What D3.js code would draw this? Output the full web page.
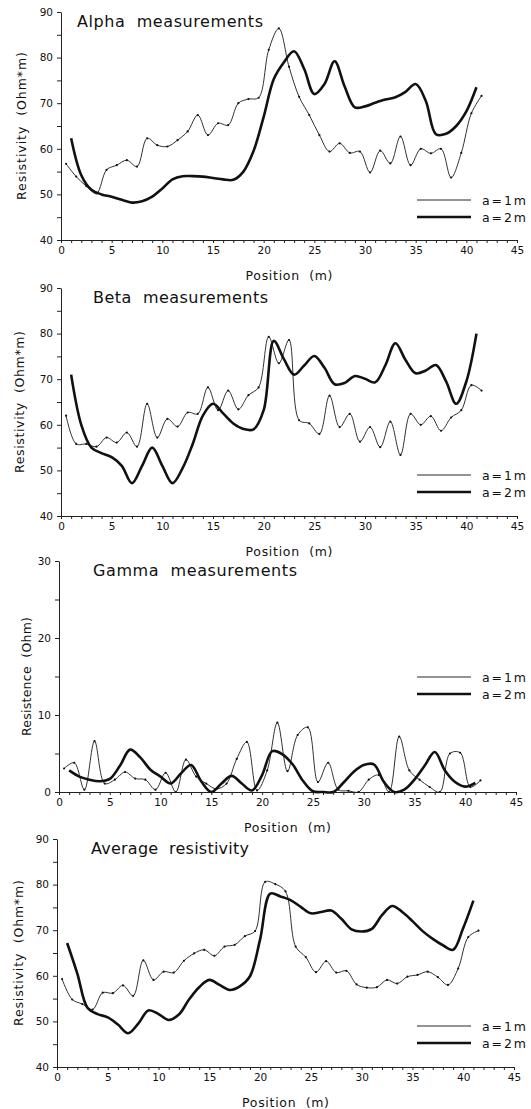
<!DOCTYPE html>
<meta charset="utf-8">
<style>
 body { margin: 0; background: #fff; }
 svg { font-family: "DejaVu Sans", sans-serif; background: #fff; }
 .axis text { font-size: 10.5px; fill: #111; font-family: "DejaVu Sans", sans-serif; }
 .axis path, .axis line { stroke: #222; stroke-width: 1px; }
 .thin { fill: none; stroke: #1a1a1a; stroke-width: 0.9px; }
 .thick { fill: none; stroke: #111; stroke-width: 2.6px; stroke-linejoin: round; }
 .dot { fill: #111; }
 .title { font-size: 16px; fill: #111; white-space: pre; }
 .ylab, .xlab { font-size: 12.5px; fill: #111; }
 .leg { font-size: 12.5px; fill: #111; }
</style>
<body>
<svg width="531" height="1109"></svg>
</body>
<script src="https://d3js.org/d3.v7.min.js"></script>
<script>

// measurement positions (m)
var posThin = [0.5, 1.5, 2.5, 3.5, 4.5, 5.5, 6.5, 7.5, 8.5, 9.5, 10.5, 11.5, 12.5, 13.5,
               14.5, 15.5, 16.5, 17.5, 18.5, 19.5, 20.5, 21.5, 22.5, 23.5, 24.5, 25.5, 26.5, 27.5,
               28.5, 29.5, 30.5, 31.5, 32.5, 33.5, 34.5, 35.5, 36.5, 37.5, 38.5, 39.5, 40.5, 41.5];
var posThick = [1, 2, 3, 4, 5, 6, 7, 8, 9, 10, 11, 12, 13, 14, 15, 16, 17, 18, 19, 20, 21,
                22, 23, 24, 25, 26, 27, 28, 29, 30, 31, 32, 33, 34, 35, 36, 37, 38, 39, 40, 41];

// a=1m series
var alpha1 = [56.7, 53.9, 51.8, 50.2, 55.4, 56.4, 57.5, 56.1, 62.3, 60.8, 60.5, 61.9, 63.8, 67.4,
              63.0, 65.6, 65.2, 70.0, 70.9, 71.2, 81.7, 86.4, 78.0, 71.4, 67.4, 63.0, 59.4, 61.2,
              59.1, 59.4, 54.8, 59.6, 56.8, 62.7, 56.4, 60.0, 59.0, 60.0, 53.7, 59.1, 67.8, 71.6];
var beta1 = [62.0, 55.8, 55.8, 55.2, 57.2, 56.1, 58.3, 55.2, 64.6, 57.2, 61.3, 59.6, 62.7, 62.4,
             68.2, 63.2, 67.5, 63.4, 66.5, 68.2, 79.3, 73.5, 78.6, 61.0, 60.3, 58.0, 66.4, 59.5,
             62.4, 56.3, 59.5, 55.1, 60.7, 53.4, 62.4, 60.0, 61.9, 58.7, 61.6, 63.2, 68.7, 67.5];
var gamma1 = [3.05, 3.8, 0.3, 6.6, 1.1, 1.6, 2.6, 1.75, 1.6, 0.3, 2.5, 0.0, 4.2, 2.0,
              1.1, 0.4, 1.1, 4.3, 6.5, 0.2, 2.8, 9.0, 2.7, 7.4, 8.4, 1.3, 3.8, 0.3,
              0.15, 0.0, 1.6, 2.2, 0.0, 7.2, 2.8, 1.6, 0.65, 0.0, 5.0, 5.1, 0.65, 1.5];
var avg1 = [59.3, 54.8, 53.8, 52.6, 56.3, 56.2, 57.9, 55.6, 63.4, 59.1, 60.9, 60.7, 63.3, 64.9,
            65.7, 64.4, 66.4, 66.8, 68.7, 69.8, 80.6, 80.1, 78.5, 66.4, 64.1, 60.8, 63.2, 60.7,
            61.1, 58.1, 57.4, 57.5, 59.1, 58.3, 59.8, 60.2, 60.9, 59.7, 58.0, 61.6, 68.5, 69.9];

// a=2m series
var alpha2 = [62.3, 54.2, 51.0, 50.0, 49.5, 48.8, 48.2, 48.5, 49.5, 51.3, 53.3, 54.0, 54.0, 53.9,
              53.6, 53.3, 53.2, 55.0, 59.5, 67.0, 75.3, 79.0, 81.4, 77.5, 72.0, 74.2, 79.2, 73.6,
              69.1, 69.3, 70.1, 70.8, 71.3, 72.5, 74.2, 70.5, 63.2, 63.3, 65.0, 68.2, 73.5];
var beta2 = [71.0, 60.0, 55.0, 53.8, 52.9, 51.0, 47.2, 51.0, 55.0, 51.0, 47.2, 50.5, 55.8, 62.0,
             64.6, 62.5, 60.3, 59.1, 59.0, 63.2, 78.4, 74.4, 71.0, 73.0, 75.1, 72.5, 68.9, 69.2,
             70.7, 70.1, 69.3, 73.0, 77.9, 74.2, 71.3, 71.9, 73.1, 69.5, 64.6, 69.5, 80.0];
var gamma2 = [2.8, 2.0, 1.6, 1.4, 1.7, 3.4, 5.5, 4.5, 2.9, 2.0, 1.1, 2.4, 3.5, 1.4,
              0.0, 1.1, 2.1, 1.1, 0.2, 2.2, 5.3, 4.9, 3.6, 1.5, 0.1, 0.0, 0.0, 1.2,
              2.6, 3.5, 3.6, 1.3, 0.0, 0.3, 1.6, 3.4, 5.2, 2.8, 1.3, 0.7, 1.2];
var avg2 = [67.2, 60.5, 53.0, 51.6, 50.9, 49.3, 47.4, 49.5, 52.4, 51.6, 50.3, 51.5, 54.8, 57.5,
            59.1, 58.0, 56.9, 57.7, 59.9, 68.0, 78.0, 77.4, 76.6, 75.1, 73.7, 74.0, 74.3, 72.5,
            70.2, 69.7, 70.3, 73.3, 75.3, 74.0, 72.0, 69.8, 68.1, 66.7, 65.7, 70.5, 76.5];

var titles = ["Alpha  measurements", "Beta  measurements", "Gamma  measurements", "Average  resistivity"];
var yLabels = ["Resistivity  (Ohm*m)", "Resistivity  (Ohm*m)", "Resistence  (Ohm)", "Resistivity  (Ohm*m)"];
var xLabel = "Position  (m)";
var legendNames = ["a=1m", "a=2m"];
var xMinor = d3.range(0, 46, 1);
var resTicks = [40, 45, 50, 55, 60, 65, 70, 75, 80, 85, 90];
var gammaTicks = [0, 5, 10, 15, 20, 25, 30];

// layout of the four panels
var panels = [
    {title: titles[0], ylab: yLabels[0], thin: alpha1, thick: alpha2, yDom: [40, 90], yTicks: resTicks,
     top: 12, bottom: 240, left: 61, right: 517, titleX: 77, titleW: 186, ylabX: 21, ylabW: 148, legY: 200},
    {title: titles[1], ylab: yLabels[1], thin: beta1, thick: beta2, yDom: [40, 90], yTicks: resTicks,
     top: 288, bottom: 516, left: 61, right: 517, titleX: 93, titleW: 175, ylabX: 19, ylabW: 142, legY: 475},
    {title: titles[2], ylab: yLabels[2], thin: gamma1, thick: gamma2, yDom: [0, 30], yTicks: gammaTicks,
     top: 561, bottom: 792, left: 59, right: 516, titleX: 93, titleW: 204, ylabX: 26, ylabW: 119, legY: 677},
    {title: titles[3], ylab: yLabels[3], thin: avg1, thick: avg2, yDom: [40, 90], yTicks: resTicks,
     top: 839, bottom: 1067, left: 57, right: 514, titleX: 91, titleW: 158, ylabX: 18, ylabW: 146, legY: 1026}
];

var svg = d3.select("svg");

panels.forEach(function(p){
    var g = svg.append("g");

    var x = d3.scaleLinear().domain([0, 45]).range([p.left, p.right]);
    var y = d3.scaleLinear().domain(p.yDom).range([p.bottom, p.top]);

    var xAxis = d3.axisBottom(x)
        .tickValues(xMinor)
        .tickSize(3)
        .tickSizeOuter(0)
        .tickPadding(4)
        .tickFormat(function(d){ return d % 5 == 0 ? d : ""; });
    var yAxis = d3.axisLeft(y)
        .tickValues(p.yTicks)
        .tickSize(4)
        .tickSizeOuter(0)
        .tickPadding(4)
        .tickFormat(function(d){ return d % 10 == 0 ? d : ""; });

    g.append("g").attr("class", "axis")
        .attr("transform", "translate(0," + p.bottom + ")")
        .call(xAxis);
    g.append("g").attr("class", "axis")
        .attr("transform", "translate(" + p.left + ",0)")
        .call(yAxis);

    // title
    g.append("text").attr("class", "title")
        .attr("x", p.titleX).attr("y", p.top + 15)
        .attr("textLength", p.titleW).attr("lengthAdjust", "spacing")
        .text(p.title);

    // axis labels
    g.append("text").attr("class", "ylab")
        .attr("transform", "translate(" + p.ylabX + "," + (p.top + p.bottom) / 2 + ") rotate(-90)")
        .attr("text-anchor", "middle")
        .attr("dominant-baseline", "central")
        .attr("textLength", p.ylabW).attr("lengthAdjust", "spacing")
        .style("white-space", "pre")
        .text(p.ylab);
    g.append("text").attr("class", "xlab")
        .attr("x", (p.left + p.right) / 2).attr("y", p.bottom + 40)
        .attr("text-anchor", "middle")
        .attr("textLength", 87).attr("lengthAdjust", "spacing")
        .style("white-space", "pre")
        .text(xLabel);

    var thinData = posThin.map(function(d, i){ return [d, p.thin[i]]; });
    var thickData = posThick.map(function(d, i){ return [d, p.thick[i]]; });

    var line = d3.line()
        .x(function(d){ return x(d[0]); })
        .y(function(d){ return y(d[1]); })
        .curve(d3.curveCatmullRom.alpha(0.5));

    g.append("path").attr("class", "thin").attr("d", line(thinData));
    g.selectAll(".dot").data(thinData).enter().append("circle")
        .attr("class", "dot")
        .attr("cx", function(d){ return x(d[0]); })
        .attr("cy", function(d){ return y(d[1]); })
        .attr("r", 1.1);
    g.append("path").attr("class", "thick").attr("d", line(thickData));

    // legend
    legendNames.forEach(function(name, i){
        var ly = p.legY + i * 17;
        g.append("line")
            .attr("x1", 417).attr("x2", 471)
            .attr("y1", ly).attr("y2", ly)
            .attr("stroke", "#111")
            .attr("stroke-width", i == 0 ? 0.9 : 2.6);
        g.append("text").attr("class", "leg")
            .attr("x", 482).attr("y", ly)
            .attr("dominant-baseline", "central")
            .attr("textLength", 44).attr("lengthAdjust", "spacing")
            .text(name);
    });
});

</script>
</html>
